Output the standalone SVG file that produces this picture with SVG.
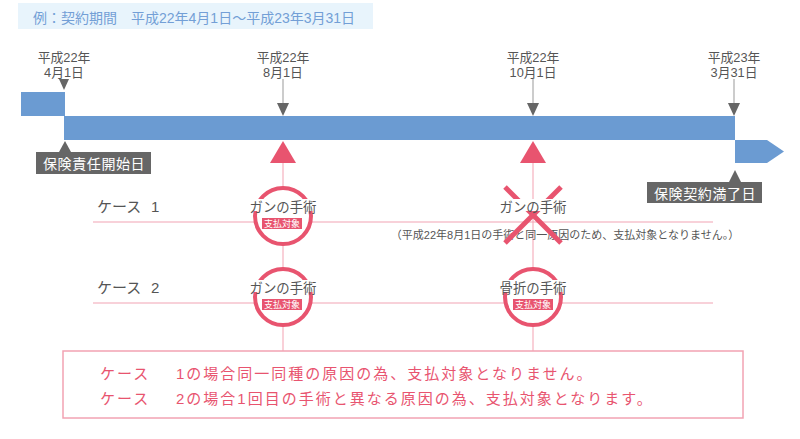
<svg xmlns="http://www.w3.org/2000/svg" width="800" height="439" viewBox="0 0 800 439">
<style>
text{font-family:"Liberation Sans","Noto Sans CJK JP",sans-serif}
.date{font-size:12.8px;fill:#555;text-anchor:middle}
.case{font-size:15px;fill:#555}
.proc{font-size:13.4px;fill:#555;text-anchor:middle}
.badge{fill:#e8546f}
.badget{font-size:9px;fill:#fff;text-anchor:middle}
.ring{fill:#fff;stroke:#e8546f;stroke-width:4}
.hline{stroke:#f2a3b3;stroke-width:1.2}
.vline{stroke:#f7c0cb;stroke-width:1.5}
.dark{fill:#666}
.tick{stroke:#999;stroke-width:1}
.blue{fill:#6b9bd2}
.red{fill:#e8546f}
.note{font-size:15px;fill:#e8546f;letter-spacing:2px}
.label{font-size:14px;fill:#fff;letter-spacing:0.6px}
</style>

<g id="header">
<rect x="18" y="3" width="355" height="26" fill="#e8f4fc"/>
<text x="33" y="23" font-size="14" fill="#739fd6">例：契約期間　平成22年4月1日〜平成23年3月31日</text>
</g>

<g id="bar">
<rect class="blue" x="21" y="92" width="44" height="24"/>
<rect class="blue" x="64" y="116" width="671" height="24"/>
<polygon class="blue" points="735,140 767,140 784,151.5 767,163 735,163"/>
</g>

<g id="date-0401">
<text class="date" x="64" y="62">平成22年</text>
<text class="date" x="64" y="77">4月1日</text>
<polygon class="dark" points="59,79 69,79 64,90"/>
</g>
<g id="date-0801">
<text class="date" x="283" y="62">平成22年</text>
<text class="date" x="283" y="77">8月1日</text>
<line class="tick" x1="283" y1="79" x2="283" y2="104"/>
<polygon class="dark" points="277,103 289,103 283,116"/>
</g>
<g id="date-1001">
<text class="date" x="533" y="62">平成22年</text>
<text class="date" x="533" y="77">10月1日</text>
<line class="tick" x1="533" y1="79" x2="533" y2="104" stroke="#ccc"/>
<polygon class="dark" points="527,103 539,103 533,116"/>
</g>
<g id="date-0331">
<text class="date" x="734" y="62">平成23年</text>
<text class="date" x="734" y="77">3月31日</text>
<line class="tick" x1="734" y1="79" x2="734" y2="104"/>
<polygon class="dark" points="728,103 740,103 734,116"/>
</g>

<g id="start-label">
<polygon class="dark" points="65,141 59,152 71,152"/>
<rect class="dark" x="36" y="152" width="115" height="22"/>
<text class="label" x="43" y="169">保険責任開始日</text>
</g>
<g id="end-label">
<polygon class="dark" points="735,170 729,182 741,182"/>
<rect class="dark" x="647" y="182" width="115" height="21"/>
<text class="label" x="654" y="199">保険契約満了日</text>
</g>

<g id="connectors">
<line class="vline" x1="283" y1="162" x2="283" y2="351"/>
<line class="vline" x1="533" y1="162" x2="533" y2="351"/>
<line class="hline" x1="93" y1="222" x2="713" y2="222"/>
<line class="hline" x1="93" y1="303" x2="713" y2="303"/>
<polygon class="red" points="283,141 270,163 296,163"/>
<polygon class="red" points="533,141 520,163 546,163"/>
</g>

<g id="case1-label">
<text class="case" x="97" y="212">ケース<tspan x="151">1</tspan></text>
</g>
<g id="case2-label">
<text class="case" x="97" y="293">ケース<tspan x="151">2</tspan></text>
</g>

<g id="case1-surgery1">
<circle class="ring" cx="283" cy="216" r="28"/>
<rect x="248" y="199" width="70" height="12" fill="#fff"/>
<text class="proc" x="283" y="212">ガンの手術</text>
<rect class="badge" x="262" y="218" width="40" height="11"/>
<text class="badget" x="282" y="227">支払対象</text>
</g>

<g id="case1-surgery2">
<text x="565" y="239" font-size="11" fill="#555" text-anchor="middle">（平成22年8月1日の手術と同一原因のため、支払対象となりません。）</text>
<line x1="505" y1="187" x2="561" y2="243" stroke="#e8546f" stroke-width="5"/>
<line x1="561" y1="187" x2="505" y2="243" stroke="#e8546f" stroke-width="5"/>
<rect x="498" y="199" width="70" height="12" fill="#fff"/>
<text class="proc" x="533" y="212">ガンの手術</text>
</g>

<g id="case2-surgery1">
<circle class="ring" cx="283" cy="297" r="28"/>
<rect x="248" y="280" width="70" height="12" fill="#fff"/>
<text class="proc" x="283" y="293">ガンの手術</text>
<rect class="badge" x="262" y="299" width="40" height="11"/>
<text class="badget" x="282" y="308">支払対象</text>
</g>

<g id="case2-surgery2">
<circle class="ring" cx="533" cy="297" r="28"/>
<rect x="498" y="280" width="70" height="12" fill="#fff"/>
<text class="proc" x="533" y="293">骨折の手術</text>
<rect class="badge" x="513" y="299" width="40" height="11"/>
<text class="badget" x="533" y="308">支払対象</text>
</g>

<g id="note">
<rect x="63" y="351" width="680" height="67" fill="#fff" stroke="#f2a3b3" stroke-width="1.5"/>
<text class="note" x="100" y="379">ケース<tspan x="176">1の場合同一同種の原因の為、支払対象となりません。</tspan></text>
<text class="note" x="100" y="404">ケース<tspan x="176">2の場合1回目の手術と異なる原因の為、支払対象となります。</tspan></text>
</g>
</svg>
